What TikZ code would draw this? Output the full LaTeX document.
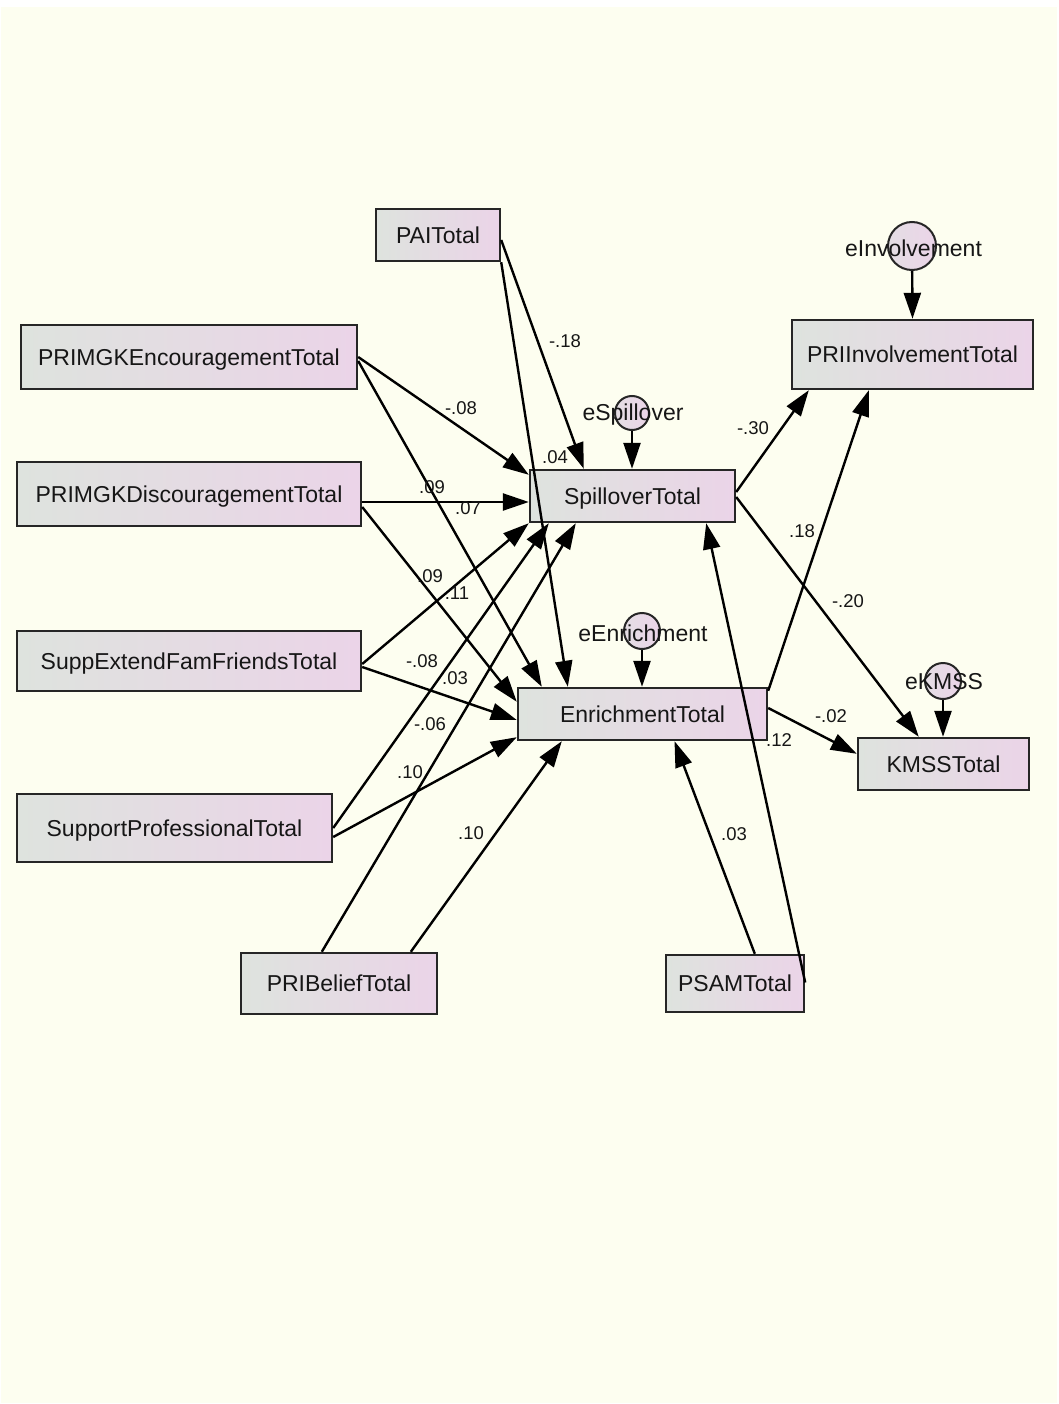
\documentclass[tikz,border=0pt]{standalone}
\usepackage{fontspec}
\setmainfont{Liberation Sans}
\usetikzlibrary{arrows.meta}
\definecolor{paper}{HTML}{FDFEF0}
\definecolor{boxleft}{HTML}{DEE3DE}
\definecolor{boxright}{HTML}{EBD4E8}
\definecolor{errleft}{HTML}{E4DEE4}
\definecolor{ink}{HTML}{161616}
\definecolor{frame}{HTML}{262626}

\begin{document}
\begin{tikzpicture}[x=1pt,y=-1pt,
  var/.style={draw=frame,line width=2.4pt,left color=boxleft,right color=boxright,
    inner sep=0pt,text depth=0pt,font=\fontsize{23}{23}\selectfont,text=ink},
  err/.style={circle,draw=frame,line width=2pt,left color=errleft,right color=boxright,inner sep=0pt},
  errlabel/.style={font=\fontsize{23}{23}\selectfont,text=ink,inner sep=0pt},
  coef/.style={font=\fontsize{18.5}{18.5}\selectfont,text=ink,inner sep=0pt},
  arrow/.style={line width=2.4pt,draw=black,-{Triangle[length=26pt,width=17pt]}},
]
% page
\fill[white] (0,0) rectangle (1058,1404);
\fill[paper] (1,7) rectangle (1057,1403);
\useasboundingbox (0,0) rectangle (1058,1404);

% observed variables
\node[var,minimum width=124pt,minimum height=52pt] (pai)    at (438,235)   {PAITotal};
\node[var,minimum width=336pt,minimum height=64pt] (enc)    at (189,357)   {PRIMGKEncouragementTotal};
\node[var,minimum width=344pt,minimum height=64pt] (dis)    at (189,494)   {PRIMGKDiscouragementTotal};
\node[var,minimum width=344pt,minimum height=60pt] (supp)   at (189,661)   {SuppExtendFamFriendsTotal};
\node[var,minimum width=315pt,minimum height=68pt] (prof)   at (174.5,828) {SupportProfessionalTotal};
\node[var,minimum width=196pt,minimum height=61pt] (belief) at (339,983.5) {PRIBeliefTotal};
\node[var,minimum width=138pt,minimum height=57pt] (psam)   at (735,983.5) {PSAMTotal};
\node[var,minimum width=205pt,minimum height=52pt] (spill)  at (632.5,496) {SpilloverTotal};
\node[var,minimum width=249pt,minimum height=52pt] (enr)    at (642.5,714) {EnrichmentTotal};
\node[var,minimum width=241pt,minimum height=69pt] (inv)    at (912.5,354.5) {PRIInvolvementTotal};
\node[var,minimum width=171pt,minimum height=52pt] (kmss)   at (943.5,764) {KMSSTotal};

% error terms
\node[err,minimum size=48pt] (einv)   at (912,246) {};
\node[err,minimum size=34pt] (espill) at (632,413) {};
\node[err,minimum size=36pt] (eenr)   at (642,631) {};
\node[err,minimum size=36pt] (ekmss)  at (943,681) {};
\node[errlabel] (leinv)   at (913.5,248) {eInvolvement};
\node[errlabel] (lespill) at (633,415)   {eSpillover};
\node[errlabel] (leenr)   at (643,633)   {eEnrichment};
\node[errlabel] (lekmss)  at (944,682)   {eKMSS};

% paths
\draw[arrow] ([yshift=-5pt]pai.east) -- ([xshift=55pt]spill.north west);
\draw[arrow] (pai.south east) -- ([xshift=51pt]enr.north west);
\draw[arrow] (enc.east) -- ([yshift=-6pt]spill.north west);
\draw[arrow] ([yshift=-4pt]enc.east) -- ([xshift=25pt]enr.north west);
\draw[arrow] ([yshift=-8pt]dis.east) -- ([yshift=-6pt]spill.west);
\draw[arrow] ([yshift=-13pt]dis.east) -- ([yshift=-15pt]enr.north west);
\draw[arrow] ([yshift=-3pt]supp.east) -- (spill.south west);
\draw[arrow] ([yshift=-6pt]supp.east) -- ([yshift=-6pt]enr.west);
\draw[arrow] (prof.east) -- ([xshift=20pt]spill.south west);
\draw[arrow] ([yshift=-9pt]prof.east) -- ([yshift=4pt]enr.south west);
\draw[arrow] ([xshift=82pt]belief.north west) -- ([xshift=47pt]spill.south west);
\draw[arrow] ([xshift=171pt]belief.north west) -- ([xshift=45pt]enr.south west);
\draw[arrow] ([xshift=90pt]psam.north west) -- ([xshift=32pt]enr.south);
\draw[arrow] ([yshift=1pt]psam.east) -- ([xshift=-30pt]spill.south east);
\draw[arrow] ([yshift=4pt]spill.east) -- ([xshift=18pt]inv.south west);
\draw[arrow] ([yshift=-4pt]enr.north east) -- ([xshift=78pt]inv.south west);
\draw[arrow] ([yshift=-1pt]spill.east) -- ([xshift=62pt]kmss.north west);
\draw[arrow] ([yshift=6pt]enr.east) -- ([yshift=-17pt]kmss.north west);

% disturbances
\draw[arrow] (einv) -- (inv.north);
\draw[arrow] (espill) -- (espill |- spill.north);
\draw[arrow] (eenr) -- (eenr |- enr.north);
\draw[arrow] (ekmss) -- (ekmss |- kmss.north);

% coefficients
\node[coef] (c1)  at (565,341) {-.18};
\node[coef] (c2)  at (555,457) {.04};
\node[coef] (c3)  at (461,408) {-.08};
\node[coef] (c4)  at (432,487) {.09};
\node[coef] (c5)  at (468,508) {.07};
\node[coef] (c6)  at (430,576) {.09};
\node[coef] (c7)  at (457,593) {.11};
\node[coef] (c8)  at (422,661) {-.08};
\node[coef] (c9)  at (455,678) {.03};
\node[coef] (c10) at (430,724) {-.06};
\node[coef] (c11) at (410,772) {.10};
\node[coef] (c12) at (471,833) {.10};
\node[coef] (c13) at (734,834) {.03};
\node[coef] (c14) at (779,740) {.12};
\node[coef] (c15) at (753,428) {-.30};
\node[coef] (c16) at (802,531) {.18};
\node[coef] (c17) at (848,601) {-.20};
\node[coef] (c18) at (831,716) {-.02};
\end{tikzpicture}
\end{document}
